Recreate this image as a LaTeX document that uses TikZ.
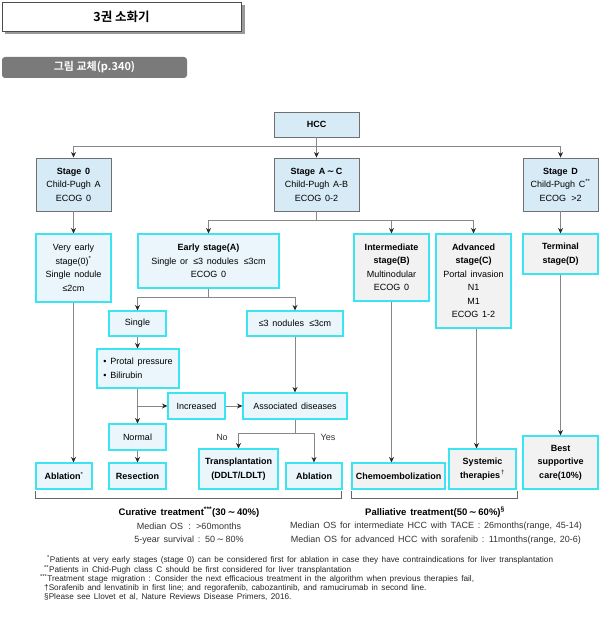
\documentclass[tikz,border=0pt]{standalone}
\usepackage{fontspec}
\setmainfont{Liberation Sans}[WordSpace=1.5]
\newfontfamily\kr{Noto Sans CJK KR}
\newfontfamily\krb{Noto Sans CJK KR Bold}
\newfontfamily\djv{DejaVu Sans}
\usetikzlibrary{arrows.meta}
\definecolor{stageblue}{RGB}{215,235,247}
\definecolor{lightblue}{RGB}{234,246,251}
\definecolor{lightgrey}{RGB}{242,242,242}
\definecolor{cyanb}{RGB}{60,228,242}
\definecolor{stageborder}{RGB}{112,112,112}
\definecolor{linegray}{RGB}{135,135,135}
\definecolor{tabgray}{RGB}{122,122,122}
\newcommand{\tld}{{\djv\,∼\,}}
\tikzset{
  boxtext/.style={align=center, inner sep=1pt, font=\fontsize{9}{13.5}\selectfont},
  stg/.style={boxtext, draw=stageborder, line width=0.9pt, fill=stageblue},
  cyb/.style={boxtext, draw=cyanb, line width=1.1pt, fill=lightblue},
  cyg/.style={boxtext, draw=cyanb, line width=1.1pt, fill=lightgrey},
  conn/.style={draw=linegray, line width=0.8pt, -{Stealth[length=5.5pt,width=5pt,color=black!85]}},
  plain/.style={draw=linegray, line width=0.8pt},
  brk/.style={draw=black!60, line width=0.7pt},
  lbl/.style={inner sep=0pt, font=\fontsize{9}{11}\selectfont, text=black!80},
  foot/.style={inner sep=0pt, anchor=west, font=\fontsize{8.2}{9}\selectfont, text=black!85},
}
\begin{document}
\begin{tikzpicture}[x=1pt,y=-1pt]
\useasboundingbox (0,0) rectangle (600,620);
\fill[white] (0,0) rectangle (600,620);

% header
\fill[black!40] (5,5) rectangle (244.5,34.5);
\node[draw=black!70, line width=0.8pt, fill=white, minimum width=239pt, minimum height=29pt, inner sep=0pt, font=\krb\fontsize{12.5}{14}\selectfont] (hdr) at (121.5,16.5) {3권 소화기};
\node[fill=tabgray, rounded corners=3pt, minimum width=185pt, minimum height=21pt, inner sep=0pt, text=white, font=\krb\fontsize{11}{12}\selectfont] (tab) at (94.5,67.5) {그림 교체(p.340)};

% nodes
\node[stg, minimum width=85pt, minimum height=25pt] (hcc) at (316.5,124.5) {\bfseries HCC};
\node[stg, minimum width=75pt, minimum height=53pt] (s0) at (73.5,184.5) {\textbf{Stage 0}\\Child-Pugh A\\ECOG 0};
\node[stg, minimum width=85pt, minimum height=53pt] (sac) at (316.5,184.5) {\textbf{Stage A\tld C}\\Child-Pugh A-B\\ECOG 0-2};
\node[stg, minimum width=75pt, minimum height=53pt] (sd) at (560.5,184.5) {\textbf{Stage D}\\Child-Pugh C\textsuperscript{**}\\ECOG \,>2};

\node[cyb, minimum width=75pt, minimum height=68pt] (ve) at (73.5,268) {Very early\\stage(0)\textsuperscript{*}\\Single nodule\\≤2cm};
\node[cyb, minimum width=141pt, minimum height=54pt] (ea) at (208.5,261) {\textbf{Early stage(A)}\\Single or \,≤3 nodules \,≤3cm\\ECOG 0};
\node[cyg, minimum width=75pt, minimum height=67pt] (ib) at (391.5,267.5) {\textbf{Intermediate}\\\textbf{stage(B)}\\Multinodular\\ECOG 0};
\node[cyg, minimum width=75pt, minimum height=94pt] (ac) at (473.5,281) {\textbf{Advanced}\\\textbf{stage(C)}\\Portal invasion\\N1\\M1\\ECOG 1-2};
\node[cyg, minimum width=75pt, minimum height=40pt] (td) at (560.5,254) {\textbf{Terminal}\\\textbf{stage(D)}};

\node[cyb, minimum width=57pt, minimum height=25pt] (sg) at (137.5,323.5) {Single};
\node[cyb, minimum width=96pt, minimum height=25pt] (nd) at (295,323.5) {≤3 nodules \,≤3cm};
\node[cyb, minimum width=82pt, minimum height=39pt, align=left] (pp) at (138,368.5) {• Protal pressure\\• Bilirubin};
\node[cyb, minimum width=57pt, minimum height=26pt] (inc) at (196.5,406) {Increased};
\node[cyb, minimum width=104pt, minimum height=26pt] (ad) at (295,406) {Associated diseases};
\node[cyb, minimum width=57pt, minimum height=26pt] (nm) at (137.5,437) {Normal};

\node[cyb, minimum width=56pt, minimum height=26pt] (ab1) at (64,476) {\textbf{Ablation}\textsuperscript{*}};
\node[cyb, minimum width=57pt, minimum height=26pt] (rs) at (137.5,476) {\textbf{Resection}};
\node[cyb, minimum width=79pt, minimum height=40pt] (tp) at (238.5,469) {\textbf{Transplantation}\\\textbf{(DDLT/LDLT)}};
\node[cyb, minimum width=56pt, minimum height=26pt] (ab2) at (314,476) {\textbf{Ablation}};
\node[cyg, minimum width=93pt, minimum height=26pt] (ch) at (398.5,476) {\textbf{Chemoembolization}};
\node[cyg, minimum width=67pt, minimum height=40pt] (sy) at (482.5,469) {\textbf{Systemic}\\\textbf{therapies}\textsuperscript{\,†}};
\node[cyg, minimum width=75pt, minimum height=53pt] (bs) at (560.5,462.5) {\textbf{Best}\\\textbf{supportive}\\\textbf{care(10\%)}};

% connectors
\coordinate (b1) at (316.5,146);
\draw[conn] (hcc.south) -- (sac.north);
\draw[conn] (b1) -| (s0.north);
\draw[conn] (b1) -| (sd.north);
\draw[conn] (s0.south) -- (ve.north);
\draw[conn] (sd.south) -- (td.north);
\coordinate (b2) at (316.5,220);
\draw[plain] (sac.south) -- (b2);
\draw[conn] (b2) -| (ea.north);
\draw[conn] (b2) -| (ib.north);
\draw[conn] (b2) -| (ac.north);
\coordinate (b3) at (208.5,297);
\draw[plain] (ea.south) -- (b3);
\draw[conn] (b3) -| (sg.north);
\draw[conn] (b3) -| (nd.north);
\draw[conn] (sg.south) -- (pp.north -| sg.south);
\draw[conn] (pp.south -| sg.south) -- (nm.north);
\coordinate (b4) at (137.5,406);
\draw[conn] (b4) -- (inc.west);
\draw[conn] (inc.east) -- (ad.west);
\draw[conn] (nd.south) -- (ad.north);
\coordinate (b5) at (295,433);
\draw[plain] (ad.south) -- (b5);
\draw[conn] (b5) -| (tp.north);
\draw[conn] (b5) -| (ab2.north);
\node[lbl] (no) at (222,437) {No};
\node[lbl] (yes) at (328,437) {Yes};
\draw[conn] (nm.south) -- (rs.north);
\draw[conn] (ve.south) -- (ve.south |- ab1.north);
\draw[conn] (ib.south) -- (ib.south |- ch.north);
\draw[conn] ([xshift=3pt]ac.south) -- ([xshift=3pt]ac.south |- sy.north);
\draw[conn] (td.south) -- (bs.north);

% brackets
\draw[brk] (35,491) -- (35,498) -- (341,498) -- (341,491);
\draw[brk] (351,491) -- (351,498) -- (517,498) -- (517,491);

% summary text
\node[lbl, font=\bfseries\fontsize{9.5}{11}\selectfont, text=black] (cur) at (189,512) {Curative treatment\textsuperscript{***}(30\tld 40\%)};
\node[lbl] (cur1) at (189,526) {Median OS \,: \,>60months};
\node[lbl] (cur2) at (189,540) {5-year survival : 50\tld 80\%};
\node[lbl, font=\bfseries\fontsize{9.5}{11}\selectfont, text=black] (pal) at (435,512) {Palliative treatment(50\tld 60\%)\textsuperscript{§}};
\node[lbl] (pal1) at (436,526) {Median OS for intermediate HCC with TACE : 26months(range, 45-14)};
\node[lbl] (pal2) at (436,540) {Median OS for advanced HCC with sorafenib : 11months(range, 20-6)};

% footnotes
\node[foot] (f1) at (47,560) {\textsuperscript{*}Patients at very early stages (stage 0) can be considered first for ablation in case they have contraindications for liver transplantation};
\node[foot] (f2) at (44,570) {\textsuperscript{**}Patients in Chid-Pugh class C should be first considered for liver transplantation};
\node[foot] (f3) at (40,579) {\textsuperscript{***}Treatment stage migration : Consider the next efficacious treatment in the algorithm when previous therapies fail,};
\node[foot] (f4) at (44,588) {†Sorafenib and lenvatinib in first line; and regorafenib, cabozantinib, and ramucirumab in second line.};
\node[foot] (f5) at (44,597) {§Please see Llovet et al, Nature Reviews Disease Primers, 2016.};
\end{tikzpicture}
\end{document}
